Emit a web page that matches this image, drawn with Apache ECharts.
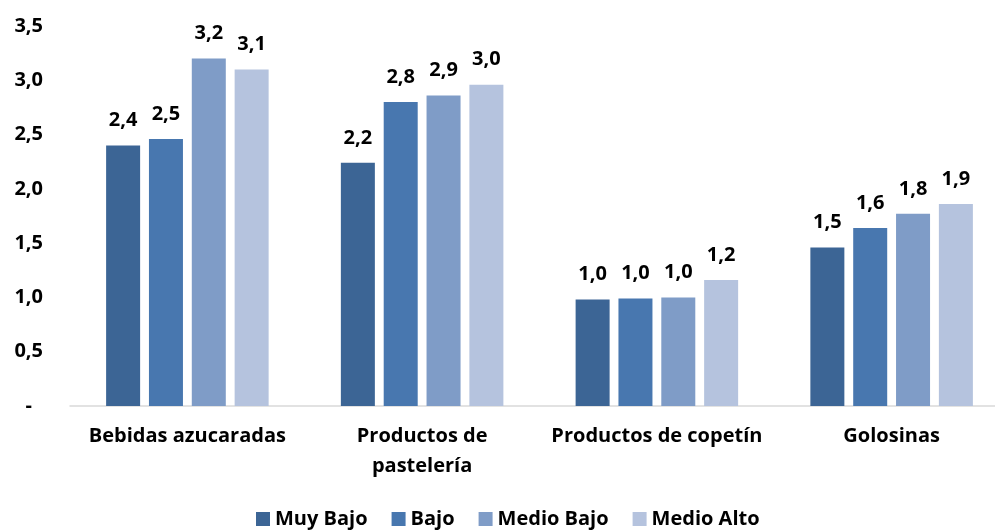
<!DOCTYPE html>
<html>
<head>
<meta charset="utf-8">
<script src="https://cdn.jsdelivr.net/npm/echarts@6/dist/echarts.min.js"></script>
<style>
  html, body { margin: 0; padding: 0; background: #ffffff; overflow: hidden; }
  #chart { width: 1020px; height: 530px; }
</style>
</head>
<body>
<div id="chart"></div>
<script>
// Categories on the x axis
const categories = ['Bebidas azucaradas', 'Productos de\npastelería', 'Productos de copetín', 'Golosinas'];

// One series per socioeconomic level
const seriesNames = ['Muy Bajo', 'Bajo', 'Medio Bajo', 'Medio Alto'];
const muyBajo   = [2.40, 2.24, 0.98, 1.46];
const bajo      = [2.46, 2.80, 0.99, 1.64];
const medioBajo = [3.20, 2.86, 1.00, 1.77];
const medioAlto = [3.10, 2.96, 1.16, 1.86];

// Y axis ticks
const yMin = 0, yMax = 3.5, yStep = 0.5;

const colors = ['#3c6595', '#4877af', '#7f9cc7', '#b5c3de'];
const FONT = '"Open Sans", Lato, sans-serif';
const FS = 20;

const fmt = v => v.toFixed(1).replace('.', ',');

const seriesData = [muyBajo, bajo, medioBajo, medioAlto];

const chart = echarts.init(document.getElementById('chart'), null, { renderer: 'canvas' });

chart.setOption({
  animation: false,
  color: colors,
  textStyle: { fontFamily: FONT },
  grid: { left: 70, top: 26, width: 939, bottom: 124, containLabel: false },
  legend: {
    top: 509,
    left: 256,
    itemWidth: 14,
    itemHeight: 14,
    itemGap: 24,
    padding: 0,
    icon: 'rect',
    textStyle: { fontFamily: FONT, fontWeight: 'bold', fontSize: FS, color: '#000' },
    data: seriesNames
  },
  xAxis: {
    type: 'category',
    data: categories,
    axisLine: { show: true, lineStyle: { color: '#d9d9d9', width: 1.5 } },
    axisTick: { show: false },
    axisLabel: {
      fontFamily: FONT, fontWeight: 'bold', fontSize: FS, color: '#000',
      margin: 15, lineHeight: 30, interval: 0
    }
  },
  yAxis: {
    type: 'value',
    min: yMin, max: yMax, interval: yStep,
    splitLine: { show: false },
    axisLine: { show: false },
    axisTick: { show: false },
    axisLabel: {
      fontFamily: FONT, fontWeight: 'bold', fontSize: FS, color: '#000',
      margin: 27,
      formatter: v => (v === 0 ? '{dash|-}' : fmt(v)),
      rich: { dash: { fontFamily: FONT, fontWeight: 'bold', fontSize: FS, color: '#000', padding: [0, 11, 0, 0] } }
    }
  },
  series: seriesNames.map((name, i) => ({
    name,
    type: 'bar',
    data: seriesData[i],
    barWidth: 34,
    barGap: '26%',
    itemStyle: { color: colors[i] },
    label: {
      show: true,
      position: 'top',
      distance: 15,
      fontFamily: FONT, fontWeight: 'bold', fontSize: FS, color: '#000',
      formatter: p => fmt(p.value)
    }
  }))
});
</script>
</body>
</html>
